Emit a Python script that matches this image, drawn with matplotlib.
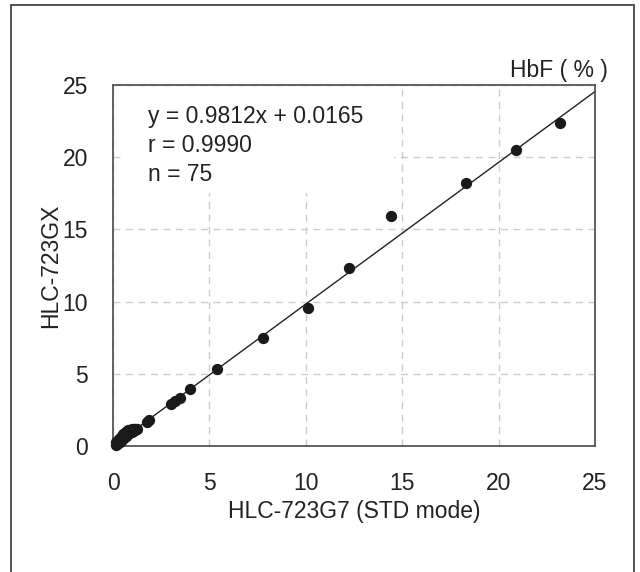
import matplotlib
matplotlib.use("Agg")
import matplotlib.pyplot as plt
import numpy as np
from matplotlib.patches import Rectangle

plt.rcParams["font.family"] = ["Liberation Sans", "DejaVu Sans"]

# HLC-723G7 (STD mode) vs HLC-723GX, HbF (%)
g7_high = [23.2, 20.9, 18.3, 14.4, 12.25, 10.1, 7.8, 5.4, 4.0, 3.45, 3.2, 3.0, 1.85, 1.75, 1.1, 0.95]
gx_high = [22.4, 20.5, 18.2, 15.9, 12.3, 9.55, 7.45, 5.35, 3.95, 3.35, 3.1, 2.9, 1.8, 1.65, 1.15, 1.1]

g7_low = [0.15, 0.20, 0.22, 0.25, 0.28, 0.30, 0.30, 0.32, 0.35, 0.35,
          0.38, 0.40, 0.40, 0.42, 0.45, 0.45, 0.48, 0.50, 0.50, 0.52,
          0.55, 0.55, 0.58, 0.60, 0.60, 0.62, 0.65, 0.65, 0.68, 0.70,
          0.70, 0.72, 0.75, 0.75, 0.78, 0.80, 0.80, 0.82, 0.85, 0.85,
          0.88, 0.90, 0.90, 0.92, 0.95, 0.98, 1.00, 1.02, 1.05, 1.08,
          1.10, 1.15, 1.20, 0.35, 0.45, 0.25, 0.18, 0.65, 1.25]
gx_low = [0.10, 0.15, 0.25, 0.20, 0.30, 0.35, 0.25, 0.40, 0.30, 0.45,
          0.35, 0.50, 0.40, 0.55, 0.45, 0.60, 0.50, 0.65, 0.55, 0.85,
          0.60, 0.70, 0.62, 0.75, 0.65, 0.90, 0.70, 0.80, 0.72, 0.95,
          0.75, 0.85, 0.80, 1.05, 0.85, 1.10, 0.90, 0.95, 0.90, 1.00,
          1.05, 0.95, 1.12, 1.00, 1.05, 1.15, 1.00, 1.10, 1.05, 1.15,
          1.08, 1.12, 1.18, 0.55, 0.72, 0.40, 0.30, 0.95, 1.20]

slope, intercept = 0.9812, 0.0165
fit_x = [0, 25]
ticks = [0, 5, 10, 15, 20, 25]

x = np.array(g7_high + g7_low)
y = np.array(gx_high + gx_low)

FS = 16.5

fig = plt.figure(figsize=(6.4, 5.72), dpi=100)
ax = fig.add_axes([113 / 640, 1 - 446 / 572, 482 / 640, 361 / 572])

# outer frame (open at bottom)
fig.patches.append(Rectangle((11 / 640, -0.1), 623 / 640, 1.1 - 5 / 572,
                             transform=fig.transFigure, fill=False,
                             edgecolor="#444444", linewidth=1.3))

ax.set_xlim(0, 25)
ax.set_ylim(0, 25)
ax.set_xticks(ticks)
ax.set_yticks(ticks)
ax.tick_params(length=0, labelsize=FS, colors="#222222")
ax.tick_params(axis="x", pad=19)
ax.tick_params(axis="y", pad=18)
ax.set_axisbelow(True)
ax.grid(True, color="#cccccc", linestyle=(0, (5, 4)), linewidth=1)
for s in ax.spines.values():
    s.set_color("#555555")
    s.set_linewidth(1.3)

# white box behind the equation text
ax.add_patch(Rectangle((0.019, 0.70), 0.563, 0.29, transform=ax.transAxes,
                       facecolor="white", edgecolor="none", zorder=1))

fit_y = [slope * v + intercept for v in fit_x]
ax.plot(fit_x, fit_y, color="#222222", linewidth=1.0, zorder=2, clip_on=False)
ax.scatter(x, y, s=66, color="#1a1a1a", zorder=3, clip_on=False, linewidths=0)

tx = (148 - 113) / 482
ax.text(tx, (446 - 117) / 361, f"y = {slope}x + {intercept}", transform=ax.transAxes,
        fontsize=FS, va="center", ha="left", color="#222222", zorder=4)
ax.text(tx, (446 - 146) / 361, "r = 0.9990", transform=ax.transAxes,
        fontsize=FS, va="center", ha="left", color="#222222", zorder=4)
ax.text(tx, (446 - 175) / 361, "n = 75", transform=ax.transAxes,
        fontsize=FS, va="center", ha="left", color="#222222", zorder=4)

ax.text(608 / 640, 1 - 70 / 572, "HbF ( % )", transform=fig.transFigure,
        fontsize=FS, ha="right", va="center", color="#222222")

ax.set_xlabel("HLC-723G7 (STD mode)", fontsize=FS, color="#222222", labelpad=3)
ax.set_ylabel("HLC-723GX", fontsize=FS, color="#222222")
ax.yaxis.set_label_coords(-0.105, 0.5)

fig.savefig("out.png", dpi=100)
